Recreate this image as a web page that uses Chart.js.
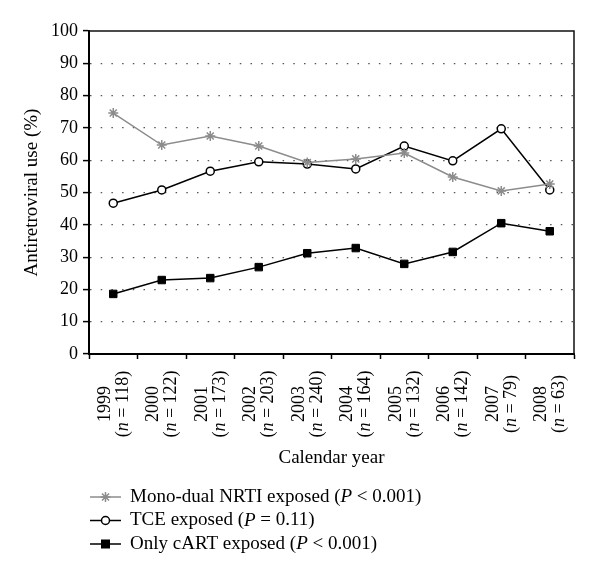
<!DOCTYPE html>
<html>
<head>
<meta charset="utf-8">
<script src="https://cdn.jsdelivr.net/npm/chart.js@4"></script>
<style>
  html, body { margin: 0; padding: 0; background: #fff; }
  #wrap { width: 600px; height: 575px; }
</style>
</head>
<body>
<div id="wrap"><canvas id="chart"></canvas></div>
<script>
const years = ["1999", "2000", "2001", "2002", "2003", "2004", "2005", "2006", "2007", "2008"];
const sampleSizes = [118, 122, 173, 203, 240, 164, 132, 142, 79, 63];

const monoDual = [74.6, 64.7, 67.5, 64.4, 59.3, 60.4, 62.2, 54.8, 50.5, 52.6];
const tce = [46.7, 50.8, 56.6, 59.5, 58.8, 57.3, 64.4, 59.8, 69.7, 50.8];
const cart = [18.6, 22.9, 23.5, 26.9, 31.2, 32.8, 27.9, 31.6, 40.5, 38.0];

const seriesNames = ["Mono-dual NRTI exposed", "TCE exposed", "Only cART exposed"];
const pValues = ["< 0.001", "= 0.11", "< 0.001"];

const FONT = "'Liberation Serif', 'Times New Roman', serif";
const GRAY = "#8c8c8c";

// draws text made of plain / italic pieces
function drawRich(ctx, parts, x, y, align, size) {
    const widths = parts.map(p => {
        ctx.font = (p.italic ? "italic " : "") + size + "px " + FONT;
        return ctx.measureText(p.text).width;
    });
    const total = widths.reduce((a, b) => a + b, 0);
    let cx = align === "center" ? x - total / 2 : x;
    ctx.textAlign = "left";
    ctx.textBaseline = "middle";
    parts.forEach((p, i) => {
        ctx.font = (p.italic ? "italic " : "") + size + "px " + FONT;
        ctx.fillText(p.text, cx, y);
        cx += widths[i];
    });
}

const extras = {
    id: "extras",
    afterDraw(chart) {
        const { ctx, chartArea: a, scales: { x } } = chart;
        ctx.save();

        // top and right frame
        ctx.strokeStyle = "#111";
        ctx.lineWidth = 1.5;
        ctx.beginPath();
        ctx.moveTo(a.left, a.top);
        ctx.lineTo(a.right, a.top);
        ctx.lineTo(a.right, a.bottom);
        ctx.stroke();

        // rotated category labels
        ctx.fillStyle = "#000";
        years.forEach((yr, i) => {
            const px = x.getPixelForTick(i);
            ctx.save();
            ctx.translate(px, a.bottom + 50);
            ctx.rotate(-Math.PI / 2);
            drawRich(ctx, [{ text: yr }], 0, -8, "center", 18);
            drawRich(ctx, [{ text: "(" }, { text: "n", italic: true }, { text: " = " + sampleSizes[i] + ")" }], 0, 10, "center", 18);
            ctx.restore();
        });

        // legend
        chart.data.datasets.forEach((ds, i) => {
            const y = x.bottom + 24 + i * 23.5;
            ctx.strokeStyle = ds.borderColor;
            ctx.lineWidth = 1.5;
            ctx.beginPath();
            ctx.moveTo(90, y);
            ctx.lineTo(121, y);
            ctx.stroke();
            ctx.fillStyle = ds.pointBackgroundColor;
            Chart.helpers.drawPoint(ctx, {
                pointStyle: ds.pointStyle,
                radius: ds.pointRadius,
                borderWidth: 1.5,
                rotation: 0,
            }, 105.5, y);
            ctx.fillStyle = "#000";
            drawRich(ctx, [
                { text: seriesNames[i] + " (" },
                { text: "P", italic: true },
                { text: " " + pValues[i] + ")" },
            ], 130, y, "left", 19);
        });

        ctx.restore();
    },
};

const datasets = [
    {
        label: seriesNames[0],
        data: monoDual,
        borderColor: GRAY,
        backgroundColor: GRAY,
        pointBackgroundColor: GRAY,
        pointBorderColor: GRAY,
        pointStyle: "star",
        pointRadius: 5,
        pointBorderWidth: 1.5,
        borderWidth: 1.5,
    },
    {
        label: seriesNames[1],
        data: tce,
        borderColor: "#000",
        backgroundColor: "#fff",
        pointBackgroundColor: "#fff",
        pointBorderColor: "#000",
        pointStyle: "circle",
        pointRadius: 4,
        pointBorderWidth: 1.5,
        borderWidth: 1.5,
    },
    {
        label: seriesNames[2],
        data: cart,
        borderColor: "#000",
        backgroundColor: "#000",
        pointBackgroundColor: "#000",
        pointBorderColor: "#000",
        pointStyle: "rect",
        pointRadius: 5.3,
        pointBorderWidth: 1,
        borderWidth: 1.5,
    },
];

new Chart(document.getElementById("chart"), {
    type: "line",
    data: { labels: years, datasets: datasets },
    options: {
        responsive: true,
        maintainAspectRatio: false,
        animation: false,
        layout: { padding: { left: 17, right: 26, top: 31, bottom: 102 } },
        plugins: {
            legend: { display: false },
            tooltip: { enabled: false },
        },
        elements: { line: { tension: 0 } },
        scales: {
            x: {
                offset: true,
                afterFit(s) { s.height = 119; },
                ticks: { display: false },
                grid: {
                    offset: true,
                    drawOnChartArea: false,
                    tickColor: "#000",
                    tickLength: 5,
                    tickWidth: 1.5,
                },
                border: { color: "#000", width: 2 },
                title: {
                    display: true,
                    text: "Calendar year",
                    color: "#000",
                    font: { family: FONT, size: 19 },
                    padding: { top: 4, bottom: 4 },
                },
            },
            y: {
                min: 0,
                max: 100,
                afterFit(s) { s.width = 72; },
                ticks: {
                    stepSize: 10,
                    color: "#000",
                    padding: 5,
                    font: { family: FONT, size: 18 },
                },
                grid: {
                    color: c => (c.tick.value === 0 || c.tick.value === 100) ? "rgba(0,0,0,0)" : "#555",
                    lineWidth: 1.2,
                    tickColor: "#000",
                    tickLength: 6,
                    tickWidth: 1.5,
                },
                border: { color: "#000", width: 2, dash: [1.5, 9.2] },
                title: {
                    display: true,
                    text: "Antiretroviral use (%)",
                    color: "#000",
                    font: { family: FONT, size: 19 },
                    padding: { top: 4, bottom: 4 },
                },
            },
        },
    },
    plugins: [extras],
});
</script>
</body>
</html>
